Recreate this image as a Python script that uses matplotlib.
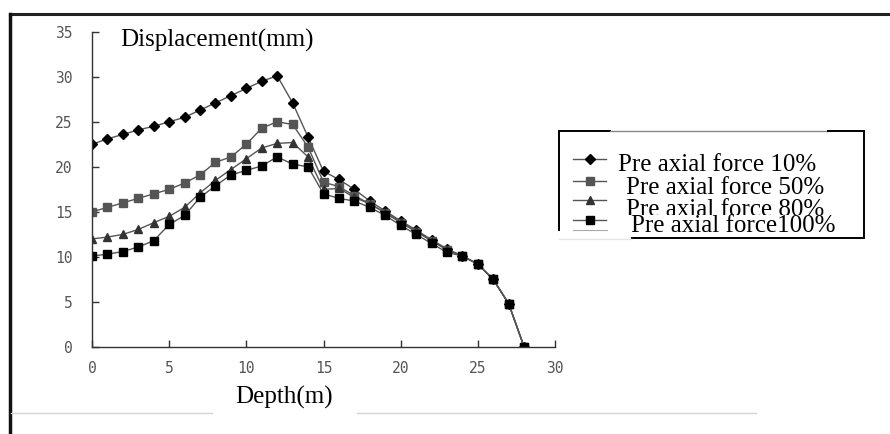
import matplotlib
matplotlib.use("Agg")
import matplotlib.pyplot as plt
from matplotlib.patches import Rectangle

# Depth along the pile (m) and lateral displacement (mm) for each pre axial force level
depth = list(range(0, 29))
disp_10 = [22.5, 23.1, 23.6, 24.1, 24.5, 25.0, 25.5, 26.3, 27.1, 27.9, 28.7, 29.5, 30.1, 27.1,
           23.3, 19.5, 18.6, 17.5, 16.2, 15.1, 14.0, 13.0, 11.9, 10.9, 10.1, 9.2, 7.5, 4.8, 0.0]
disp_50 = [15.0, 15.5, 16.0, 16.5, 17.0, 17.5, 18.2, 19.1, 20.5, 21.1, 22.5, 24.3, 25.0, 24.7,
           22.2, 18.3, 17.8, 16.8, 15.9, 14.9, 13.8, 12.8, 11.8, 10.8, 10.1, 9.2, 7.5, 4.8, 0.0]
disp_80 = [12.0, 12.2, 12.5, 13.05, 13.8, 14.5, 15.5, 17.1, 18.5, 19.7, 20.9, 22.1, 22.6, 22.7,
           21.1, 17.5, 17.6, 16.6, 15.9, 14.9, 13.9, 12.9, 11.8, 10.8, 10.1, 9.2, 7.5, 4.8, 0.0]
disp_100 = [10.1, 10.3, 10.6, 11.1, 11.8, 13.6, 14.6, 16.6, 17.9, 19.1, 19.6, 20.1, 21.1, 20.3,
            20.0, 17.0, 16.5, 16.2, 15.5, 14.6, 13.5, 12.5, 11.5, 10.5, 10.1, 9.2, 7.5, 4.8, 0.0]

labels = ["Pre axial force 10%", "Pre axial force 50%", "Pre axial force 80%", "Pre axial force100%"]
x_ticks = [0, 5, 10, 15, 20, 25, 30]
y_ticks = [0, 5, 10, 15, 20, 25, 30, 35]

W, H = 890, 434
fig = plt.figure(figsize=(W / 100, H / 100), dpi=100)

# Overlay in pixel coordinates for the frame, axis titles and legend
over = fig.add_axes([0, 0, 1, 1], zorder=0)
over.set_xlim(0, W)
over.set_ylim(H, 0)
over.axis("off")

ax = fig.add_axes([92 / W, 1 - 347 / H, (555 - 92) / W, (347 - 31.7) / H], zorder=1)
ax.patch.set_alpha(0)

line_kw = dict(color="#555555", lw=1.0)
styles = [
    dict(marker="D", ms=4.8, mfc="black", mec="black"),
    dict(marker="s", ms=6.0, mfc="#555555", mec="#555555"),
    dict(marker="^", ms=5.8, mfc="#333333", mec="#333333"),
    dict(marker="s", ms=5.4, mfc="black", mec="black"),
]
for series, st in zip([disp_10, disp_50, disp_80, disp_100], styles):
    ax.plot(depth, series, **line_kw, **st)

ax.set_xlim(0, 30)
ax.set_ylim(0, 35)
ax.set_xticks(x_ticks)
ax.set_yticks(y_ticks)
for s in ["top", "right"]:
    ax.spines[s].set_visible(False)
for s in ["left", "bottom"]:
    ax.spines[s].set_color("#333333")
    ax.spines[s].set_linewidth(1.0)
ax.tick_params(direction="in", length=5, width=1.0, color="#333333",
               labelcolor="#555555", labelsize=10.5)
ax.tick_params(axis="y", pad=14)
ax.tick_params(axis="x", pad=10)
for t in ax.get_xticklabels() + ax.get_yticklabels():
    t.set_fontfamily("DejaVu Sans Mono")

serif = "Liberation Serif"
over.text(120, 46.5, "Displacement(mm)", fontsize=18, family=serif, va="baseline", ha="left")
over.text(235, 404, "Depth(m)", fontsize=18, family=serif, va="baseline", ha="left")

# Outer frame
over.plot([9.5, 890], [14, 14], color="#222222", lw=2.2)
over.plot([10, 10], [14, 434], color="#111111", lw=2.5)
over.plot([11, 212], [413, 413], color="#d4d4d4", lw=1.0)
over.plot([357, 756], [413, 413], color="#d4d4d4", lw=1.0)

# Legend box
over.plot([559, 559], [131, 230], color="black", lw=1.4)
over.plot([559, 610], [131, 131], color="black", lw=1.4)
over.plot([610, 828], [131, 131], color="#888888", lw=1.0)
over.plot([828, 864], [131, 131], color="black", lw=1.4)
over.plot([864, 864], [131, 238], color="black", lw=1.4)
over.plot([632, 862], [238, 238], color="black", lw=1.4)
over.plot([559, 632], [239, 239], color="#e6e6e6", lw=1.0)

handle_y = [159, 181, 200, 220]
for hy, st in zip(handle_y, styles):
    over.plot([573, 606], [hy, hy], **line_kw)
    over.plot([589.5], [hy], linestyle="none", **st)
over.plot([573, 607], [230, 230], color="#aaaaaa", lw=0.8)

text_pos = [(618, 170.7), (626, 194), (626, 215.5), (631, 232)]
for i, ((tx, ty), lab) in enumerate(zip(text_pos, labels)):
    z = 2 if i < 3 else 4
    over.text(tx, ty, lab, fontsize=18, family=serif, va="baseline", ha="left", zorder=z)
over.add_patch(Rectangle((620, 214.5), 240, 22, facecolor="white", edgecolor="none", zorder=3))

fig.savefig("out.png", dpi=100)
